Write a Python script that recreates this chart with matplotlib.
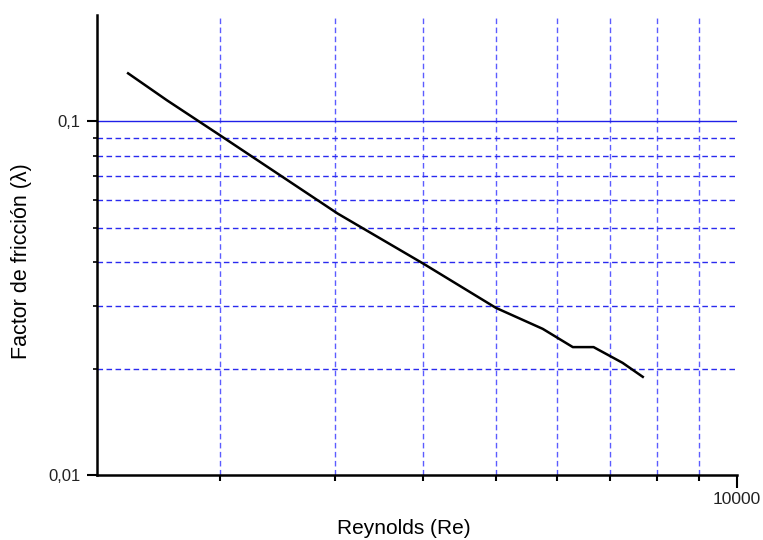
import numpy as np
import matplotlib
matplotlib.use("Agg")
import matplotlib.pyplot as plt
from matplotlib.ticker import FixedLocator, FixedFormatter, NullFormatter

plt.rcParams['font.family'] = ['Liberation Sans', 'DejaVu Sans']

# Data
reynolds = [1380, 1625, 2000, 3030, 4000, 5000, 5750, 6280, 6670, 7250, 7680]
friccion = [0.1368, 0.1147, 0.0913, 0.0549, 0.0396, 0.0297, 0.0259, 0.0230, 0.0230, 0.02076, 0.01895]

x_grid = [2000, 3000, 4000, 5000, 6000, 7000, 8000, 9000]
x_major = [10000]
x_major_labels = ['10000']
y_grid = [0.02, 0.03, 0.04, 0.05, 0.06, 0.07, 0.08, 0.09]
y_major = [0.01, 0.1]
y_major_labels = ['0,01', '0,1']

OFFSET = 1000.0


def fwd(x):
    x = np.asarray(x, dtype=float)
    return np.log10(np.maximum(x + OFFSET, 1e-9))


def inv(y):
    return 10 ** np.asarray(y, dtype=float) - OFFSET


fig = plt.figure(figsize=(7.63, 5.40), dpi=100)
ax = fig.add_axes([97 / 763, 1 - 475 / 540, (737 - 97) / 763, (475 - 15) / 540])

ax.set_xscale('function', functions=(fwd, inv))
ax.set_yscale('log')
ax.set_xlim(1201, 10000)
ax.set_ylim(0.01, 0.2)

# grid lines
for xv in x_grid:
    ax.axvline(xv, color='#5c5cff', lw=1.0, ls=(0, (4, 2.5)), zorder=1)
for yv in y_grid:
    ax.axhline(yv, color='#2a2aef', lw=1.0, ls=(0, (4, 2.5)), zorder=1)
ax.axhline(0.1, color='#2020e8', lw=1.0, zorder=1)

ax.plot(reynolds, friccion, color='black', lw=1.8, zorder=3)

ax.xaxis.set_major_locator(FixedLocator(x_major))
ax.xaxis.set_major_formatter(FixedFormatter(x_major_labels))
ax.xaxis.set_minor_locator(FixedLocator(x_grid))
ax.xaxis.set_minor_formatter(NullFormatter())
ax.yaxis.set_major_locator(FixedLocator(y_major))
ax.yaxis.set_major_formatter(FixedFormatter(y_major_labels))
ax.yaxis.set_minor_locator(FixedLocator(y_grid))
ax.yaxis.set_minor_formatter(NullFormatter())

ax.tick_params(axis='x', which='major', length=9, width=1.5, direction='out',
               labelsize=12.5, labelcolor='#222222', pad=3)
ax.tick_params(axis='x', which='minor', length=4, width=1.5, direction='out')
ax.tick_params(axis='y', which='major', length=7, width=1.5, direction='out',
               labelsize=12, labelcolor='#222222', pad=5)
ax.tick_params(axis='y', which='minor', length=3, width=1.2, direction='out')

for s in ['top', 'right']:
    ax.spines[s].set_visible(False)
for s in ['left', 'bottom']:
    ax.spines[s].set_linewidth(1.8)

ax.set_xlabel('Reynolds (Re)', fontsize=15)
ax.xaxis.set_label_coords((404 - 97) / 640, -(528 - 475) / 460)
ax.xaxis.label.set_verticalalignment('center')
ax.set_ylabel('Factor de fricción (λ)', fontsize=15.5)
ax.yaxis.set_label_coords((21 - 97) / 640, (475 - 261) / 460)
ax.yaxis.label.set_verticalalignment('center')

fig.savefig('out.png', dpi=100)
